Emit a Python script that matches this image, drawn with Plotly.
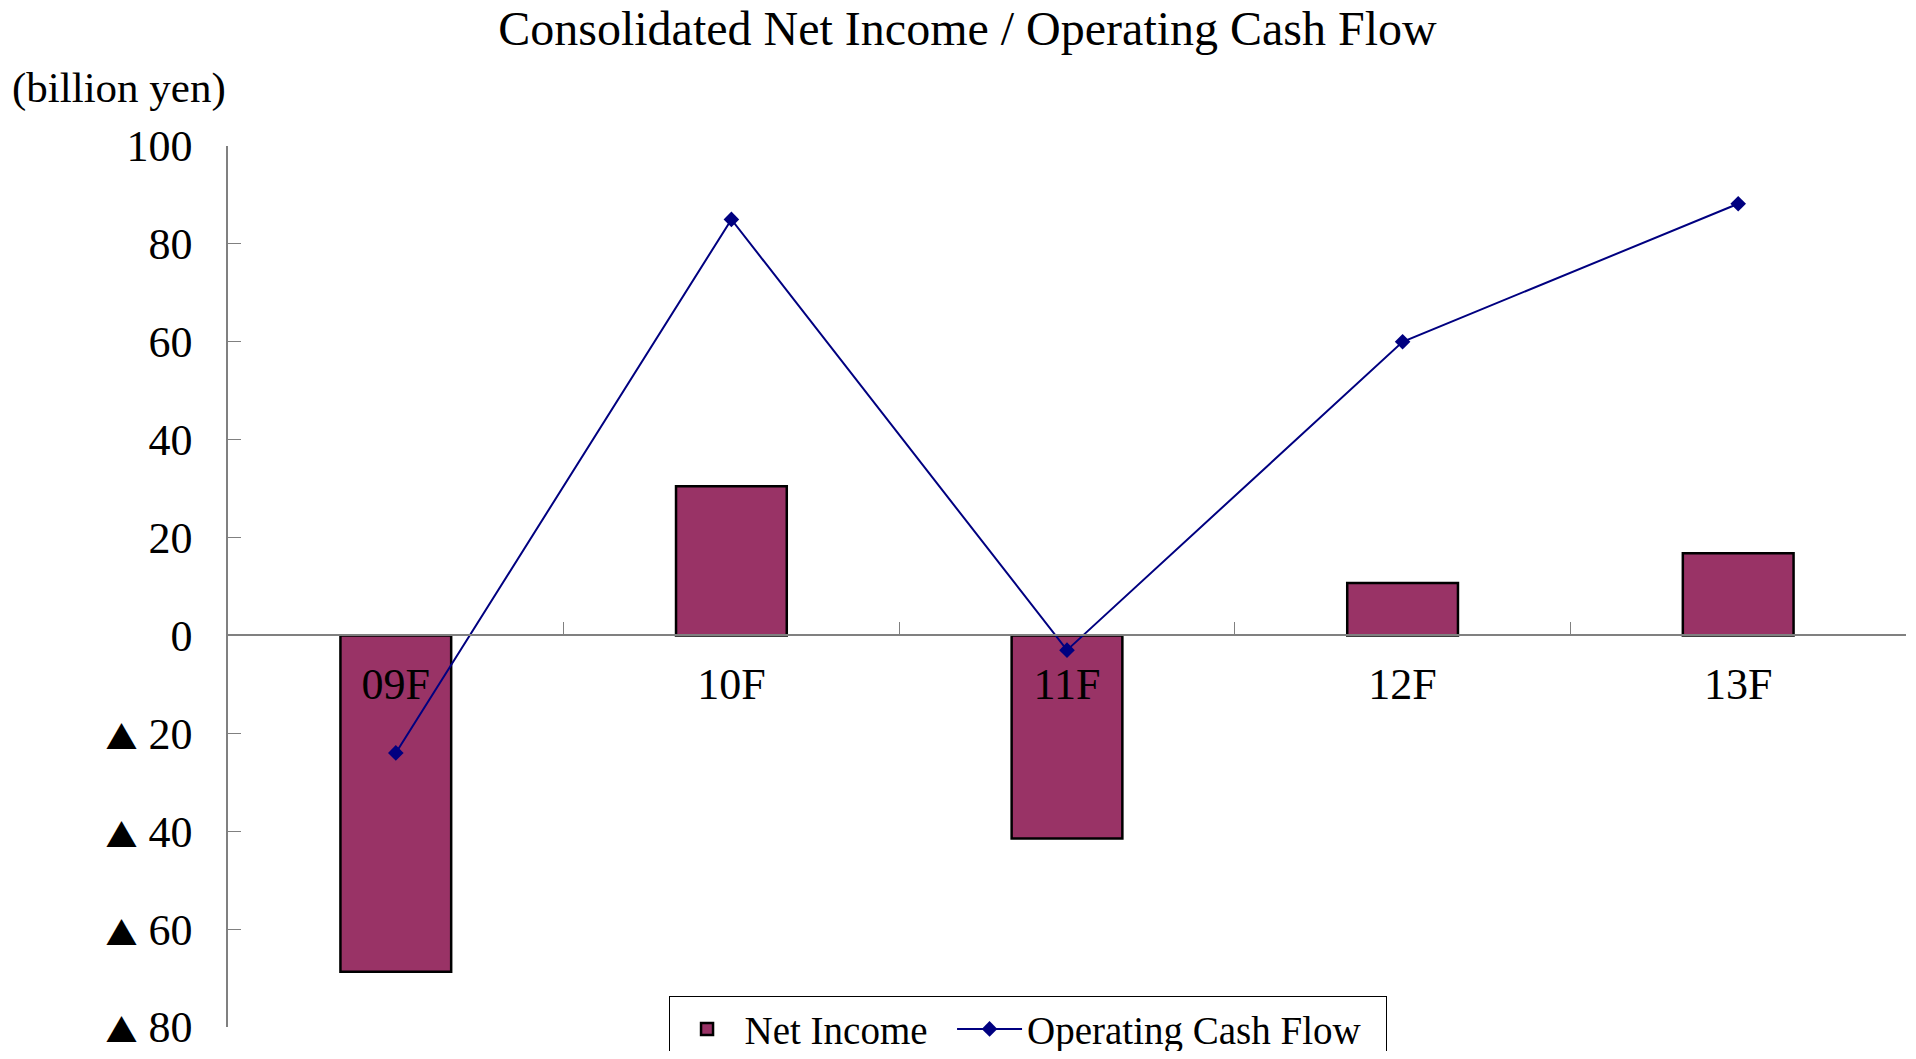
import plotly.graph_objects as go

years = ["09F", "10F", "11F", "12F", "13F"]
net_income = [-68.7, 30.5, -41.5, 10.7, 16.8]
op_cash_flow = [-24.0, 85.0, -3.0, 60.0, 88.2]
y_ticks = [100, 80, 60, 40, 20, 0, -20, -40, -60, -80]
y_tick_text = ["100", "80", "60", "40", "20", "0", "▲ 20", "▲ 40", "▲ 60", "▲ 80"]

serif = "Liberation Serif, Times New Roman, DejaVu Serif, serif"
tri = "<span style=\"font-family:'Noto Sans CJK JP';font-size:32px\">▲</span>"
y_tick_text = [t.replace("▲", tri) for t in y_tick_text]

# page body has an 8px margin, so the figure is 16px smaller than the window
W, H = 1900, 1043
nb = "\u00a0"

fig = go.Figure()
fig.add_trace(go.Bar(
    x=years, y=net_income, name="Net Income" + nb * 2, width=0.33,
    marker=dict(color="#993366", line=dict(color="black", width=2.5)),
))
fig.add_trace(go.Scatter(
    x=years, y=op_cash_flow, name="Operating Cash Flow" + nb * 2, mode="lines+markers",
    line=dict(color="#000080", width=2),
    marker=dict(symbol="diamond", size=12, color="#000080"),
))

fig.update_layout(
    width=W, height=H,
    margin=dict(l=220, r=2, t=138, b=24, autoexpand=False),
    plot_bgcolor="white", paper_bgcolor="white",
    font=dict(family=serif, size=40, color="black"),
    title=dict(text="Consolidated Net Income / Operating Cash Flow",
               x=0.505, xanchor="center", y=0.981, yanchor="middle", yref="container",
               font=dict(family=serif, size=48)),
    showlegend=True,
    legend=dict(orientation="h", xref="container", x=0.5366, xanchor="center",
                yref="container", y=0.0527, yanchor="top",
                bgcolor="white", bordercolor="black", borderwidth=1,
                font=dict(family=serif, size=39), itemwidth=65),
    xaxis=dict(
        type="category", range=[-0.5, 4.5], anchor="free", position=80 / 180,
        showline=True, linecolor="#808080", linewidth=1.5,
        ticks="inside", tickson="boundaries", ticklen=13, tickcolor="#808080",
        showgrid=False, zeroline=False, ticklabelstandoff=10, automargin=False,
        tickfont=dict(family=serif, size=44),
    ),
    yaxis=dict(
        range=[-80, 100], tickvals=y_ticks, ticktext=y_tick_text,
        showline=True, linecolor="#808080", linewidth=1.5,
        ticks="inside", ticklen=13, tickcolor="#808080",
        showgrid=False, zeroline=False, ticklabelstandoff=25, automargin=False,
        ticklabeloverflow="allow",
        tickfont=dict(family=serif, size=44),
    ),
)

fig.add_annotation(text="(billion yen)", xref="paper", yref="paper",
                   x=-0.130, xanchor="left", y=1.066, yanchor="middle",
                   showarrow=False, font=dict(family=serif, size=43))

fig.write_html("out.html")
